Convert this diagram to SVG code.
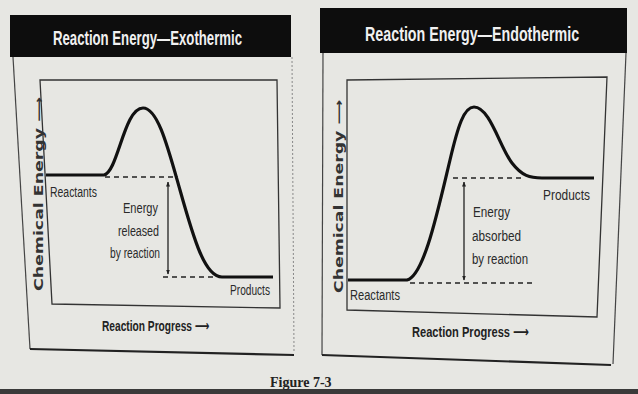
<svg xmlns="http://www.w3.org/2000/svg" width="638" height="394" viewBox="0 0 638 394">
<defs>
<style>
.bg{fill:#e7e7e3}
.hdr{fill:#0d0d0d}
.ttl{font-family:"Liberation Sans",Arial,sans-serif;font-size:20px;font-weight:bold;fill:#f0f0f0}
.frame{fill:none;stroke:#444;stroke-width:1.2}
.box{fill:none;stroke:#333;stroke-width:1.3}
.curve{fill:none;stroke:#111;stroke-width:3.2;stroke-linejoin:round}
.dash{fill:none;stroke:#222;stroke-width:1.4;stroke-dasharray:5 4}
.lbl{font-family:"Liberation Sans",Arial,sans-serif;font-size:14px;fill:#2a2a2a}
.ax{font-family:"Liberation Sans",Arial,sans-serif;font-size:15px;font-weight:bold;fill:#222}
.ar{font-family:"DejaVu Sans",sans-serif;font-weight:bold}
.yax{font-family:"DejaVu Sans","Liberation Sans",sans-serif;font-size:12px;font-weight:bold;fill:#333}
.fig{font-family:"Liberation Serif","Times New Roman",serif;font-size:14px;font-weight:bold;fill:#222}
.arr{stroke:#222;stroke-width:1.3;fill:none}
</style>
<marker id="ah" viewBox="0 0 10 10" refX="9" refY="5" markerWidth="5" markerHeight="7" orient="auto-start-reverse" markerUnits="userSpaceOnUse">
<path d="M0,1 L10,5 L0,9 Z" fill="#222"/>
</marker>
</defs>
<rect class="bg" x="0" y="0" width="638" height="394"/>
<rect x="0" y="389" width="638" height="5" fill="#3a3a3a"/>

<g id="panel-exo">
<rect class="hdr" x="10" y="15" width="281" height="42"/>
<text class="ttl" transform="translate(53,45) scale(0.7,1)" textLength="270" lengthAdjust="spacingAndGlyphs">Reaction Energy—Exothermic</text>
<path class="frame" d="M13,57 L30,349"/>
<path d="M30,349 L294,355" stroke="#222" stroke-width="2.2" fill="none"/>
<path d="M292,57 L294,352" stroke="#888" stroke-width="1" stroke-dasharray="2 2" fill="none"/>
<path class="box" d="M40,80 L277,80 L280,308 L52,304 Z"/>
<path class="curve" d="M46,175 H104 C118,172 124,108 143,108 C158,108 168,148 180,190 C194,240 205,277 222,277 H273"/>
<path class="dash" d="M105,177 H178"/>
<path class="dash" d="M163,277 H215"/>
<text class="lbl" x="50" y="197" textLength="47" lengthAdjust="spacingAndGlyphs">Reactants</text>
<text class="lbl" x="230" y="295" textLength="40" lengthAdjust="spacingAndGlyphs">Products</text>
<text class="lbl" x="123" y="213" textLength="35" lengthAdjust="spacingAndGlyphs">Energy</text>
<text class="lbl" x="118" y="236" textLength="41" lengthAdjust="spacingAndGlyphs">released</text>
<text class="lbl" x="110" y="258" textLength="50" lengthAdjust="spacingAndGlyphs">by reaction</text>
<text class="ax" transform="translate(102,331) scale(0.68,1)">Reaction Progress <tspan class="ar">⟶</tspan></text>
<text class="yax" transform="translate(43,291) rotate(-90)" textLength="194" lengthAdjust="spacingAndGlyphs">Chemical Energy ⟶</text>
</g>

<g id="panel-endo">
<rect class="hdr" x="320" y="8" width="307" height="45"/>
<text class="ttl" transform="translate(365,41) scale(0.7,1)" textLength="306" lengthAdjust="spacingAndGlyphs">Reaction Energy—Endothermic</text>
<path class="frame" d="M323,53 L322,355"/>
<path d="M322,355 L611,365" stroke="#222" stroke-width="2.2" fill="none"/>
<path class="frame" d="M626,53 L613,364"/>
<path class="box" d="M347,80 L607,77 L597,317 L347,310 Z"/>
<path class="curve" d="M348,280 H407 C424,276 438,210 450,160 C458,126 464,107 474,107 C490,107 500,148 512,163 C522,176 530,178 542,178 H594"/>
<path class="dash" d="M453,178 H525"/>
<path class="dash" d="M410,283 H533"/>
<text class="lbl" x="543" y="200" textLength="47" lengthAdjust="spacingAndGlyphs">Products</text>
<text class="lbl" x="350" y="300" textLength="50" lengthAdjust="spacingAndGlyphs">Reactants</text>
<text class="lbl" x="473" y="217" textLength="37" lengthAdjust="spacingAndGlyphs">Energy</text>
<text class="lbl" x="472" y="241" textLength="49" lengthAdjust="spacingAndGlyphs">absorbed</text>
<text class="lbl" x="472" y="264" textLength="56" lengthAdjust="spacingAndGlyphs">by reaction</text>
<text class="ax" transform="translate(412,337) scale(0.74,1)">Reaction Progress <tspan class="ar">⟶</tspan></text>
<text class="yax" transform="translate(343,293) rotate(-90)" textLength="193" lengthAdjust="spacingAndGlyphs">Chemical Energy ⟶</text>
</g>

<g id="connectors">
<path class="arr" d="M168,182 V274" marker-start="url(#ah)" marker-end="url(#ah)"/>
<path class="arr" d="M464,182 V280" marker-start="url(#ah)" marker-end="url(#ah)"/>
</g>

<text class="fig" x="270" y="387">Figure 7-3</text>
</svg>
